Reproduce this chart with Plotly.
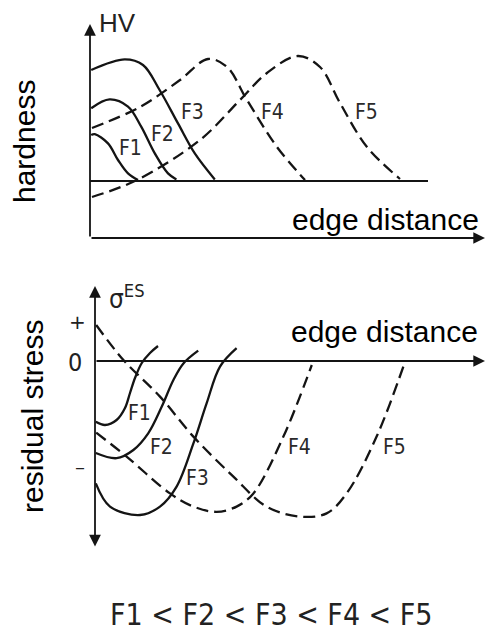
import plotly.graph_objects as go

W, H = 486, 632

# ---------------- data (arbitrary units) ----------------
# Upper panel: hardness vs. edge distance
hv_F1_x = [0.3, 1.2, 4.5, 7.0, 9.5, 12.0]
hv_F1_y = [11.5, 11.7, 9.4, 5.25, 1.9, 0.25]
hv_F2_x = [0.3, 4.9, 9.5, 12.8, 16.2, 19.5, 21.6]
hv_F2_y = [18.2, 20.4, 18.6, 13.6, 6.9, 1.9, 0.4]
hv_F3_x = [0.3, 8.7, 13.25, 17.4, 22.0, 26.2, 31.2]
hv_F3_y = [27.75, 30.4, 29.0, 22.75, 14.4, 6.9, 0.4]
hv_F4_x = [0.5, 12.5, 22.5, 29.5, 34.25, 39.25, 46.75, 53.75]
hv_F4_y = [13.25, 18.5, 25.25, 30.5, 28.5, 20.25, 8.5, 0.25]
hv_F5_x = [0.5, 11.75, 27.5, 37.5, 44.25, 52.0, 57.5, 62.5, 69.25, 77.5]
hv_F5_y = [-4.0, 0.25, 10.25, 20.25, 27.0, 31.25, 28.5, 19.5, 8.5, 0.5]

# Lower panel: residual stress vs. edge distance
rs_F1_x = [0.2, 2.5, 5.4, 7.5, 8.75, 10.0, 11.7, 13.75, 15.75]
rs_F1_y = [-15.2, -16.0, -14.75, -11.75, -8.0, -4.25, -0.5, 2.0, 3.75]
rs_F2_x = [0.2, 5.4, 9.6, 13.3, 16.7, 19.6, 22.1, 25.8]
rs_F2_y = [-23.0, -24.3, -22.25, -18.1, -11.4, -4.75, -0.6, 2.6]
rs_F3_x = [0.2, 3.75, 11.25, 16.25, 20.4, 24.6, 27.9, 31.25, 35.4]
rs_F3_y = [-30.6, -36.4, -38.5, -36.4, -31.4, -20.6, -10.6, -1.4, 3.2]
rs_F4_x = [0.3, 7.9, 18.75, 24.6, 30.4, 35.4, 39.6, 47.1, 54.2]
rs_F4_y = [-17.9, -23.9, -33.1, -36.4, -37.7, -36.4, -33.1, -18.9, -1.0]
rs_F5_x = [0.3, 7.1, 16.25, 24.6, 34.6, 42.9, 51.25, 57.9, 62.9, 70.4, 77.5]
rs_F5_y = [9.0, 0.25, -8.9, -18.9, -28.9, -36.4, -38.9, -38.1, -33.1, -18.9, -0.2]

curve_names = ["F1", "F2", "F3", "F4", "F5"]
curve_dash = ["solid", "solid", "solid", "12px,6px", "12px,6px"]
order_text = "F1 < F2 < F3 < F4 < F5"

# ---------------- layout helpers (pixel geometry of the sketch) ----------------
SCALE = 4.0            # pixels per data unit
TOP_X0, TOP_Y0 = 90, 181    # pixel of data origin, upper panel
BOT_X0, BOT_Y0 = 95, 361    # pixel of data origin, lower panel
TOP_PX = (0, 250)
BOT_PX = (250, 590)

def tx(px): return (px - TOP_X0) / SCALE
def ty(py): return (TOP_Y0 - py) / SCALE
def bx(px): return (px - BOT_X0) / SCALE
def by(py): return (BOT_Y0 - py) / SCALE

INK = "#141414"
LBL_FONT = dict(family="DejaVu Sans Condensed, DejaVu Sans, sans-serif", size=21, color="#2a2a2a")

fig = go.Figure()

top_sets = [(hv_F1_x, hv_F1_y), (hv_F2_x, hv_F2_y), (hv_F3_x, hv_F3_y),
            (hv_F4_x, hv_F4_y), (hv_F5_x, hv_F5_y)]
bot_sets = [(rs_F1_x, rs_F1_y), (rs_F2_x, rs_F2_y), (rs_F3_x, rs_F3_y),
            (rs_F4_x, rs_F4_y), (rs_F5_x, rs_F5_y)]

for name, dash, (xs, ys) in zip(curve_names, curve_dash, top_sets):
    fig.add_trace(go.Scatter(x=xs, y=ys, mode="lines", name=name,
                             line=dict(color=INK, width=2.3, dash=dash, shape="spline", smoothing=1.0),
                             xaxis="x", yaxis="y", showlegend=False, hoverinfo="skip"))
for name, dash, (xs, ys) in zip(curve_names, curve_dash, bot_sets):
    fig.add_trace(go.Scatter(x=xs, y=ys, mode="lines", name=name,
                             line=dict(color=INK, width=2.3, dash=dash, shape="spline", smoothing=1.0),
                             xaxis="x2", yaxis="y2", showlegend=False, hoverinfo="skip"))

shapes = [
    # baseline of the hardness panel
    dict(type="line", xref="x", yref="y", x0=0, y0=0, x1=tx(428), y1=0,
         line=dict(color=INK, width=1.8)),
]

annotations = []

def arrow(xref, yref, x, y, ax, ay, side="end"):
    annotations.append(dict(xref=xref, yref=yref, axref=xref, ayref=yref,
                            x=x, y=y, ax=ax, ay=ay, text="", showarrow=True,
                            arrowhead=2, arrowsize=1.3, arrowwidth=1.8,
                            arrowcolor=INK, arrowside=side, standoff=0, startstandoff=0))

# axes of upper panel
arrow("x", "y", 0, ty(24), 0, ty(238))
arrow("x", "y", tx(485), ty(238), 0, ty(238))
# axes of lower panel
arrow("x2", "y2", 0, by(286), 0, by(548), side="end+start")
arrow("x2", "y2", bx(485), 0, 0, 0)

def text(xref, yref, x, y, s, font, **kw):
    annotations.append(dict(xref=xref, yref=yref, x=x, y=y, text=s, showarrow=False,
                            xanchor="center", yanchor="middle", font=font, **kw))

big = dict(family="Liberation Sans, Arial, sans-serif", size=30, color="#000")
text("x", "y", tx(117), ty(23), "HV", dict(family="Liberation Sans, Arial, sans-serif", size=26, color="#222"))
text("x", "y", tx(385), ty(219), "edge distance", big)
text("x2", "y2", bx(384), by(331), "edge distance", big, bgcolor="white")
text("x2", "y2", bx(127), by(297), "σ<sup>ES</sup>", dict(family="DejaVu Sans Condensed, DejaVu Sans, sans-serif", size=26, color="#222"))
text("x2", "y2", bx(77), by(322), "+", dict(family="DejaVu Sans", size=20, color="#222"))
text("x2", "y2", bx(75), by(362), "0", dict(family="DejaVu Sans Condensed, DejaVu Sans", size=25, color="#222"))
text("x2", "y2", bx(80), by(467), "–", dict(family="DejaVu Sans", size=20, color="#222"))

top_lbl_px = [(130, 148), (162, 134), (192, 112), (272, 112), (366, 112)]
bot_lbl_px = [(139, 413), (161, 447), (197, 478), (299, 447), (394, 447)]
for name, (px, py) in zip(curve_names, top_lbl_px):
    text("x", "y", tx(px), ty(py), name, LBL_FONT)
for name, (px, py) in zip(curve_names, bot_lbl_px):
    text("x2", "y2", bx(px), by(py), name, LBL_FONT)

# rotated axis titles and footer
text("paper", "paper", 25 / W, 1 - 142 / H, "hardness", big, textangle=-90)
text("paper", "paper", 32 / W, 1 - 417 / H, "residual stress", big, textangle=-90)
text("paper", "paper", 271 / W, 1 - 614 / H, order_text,
     dict(family="DejaVu Sans Condensed, DejaVu Sans, sans-serif", size=30, color="#222"))

fig.update_layout(
    width=W, height=H, margin=dict(l=0, r=0, t=0, b=0),
    paper_bgcolor="white", plot_bgcolor="white",
    xaxis=dict(domain=[0, 1], range=[tx(0), tx(W)], visible=False),
    yaxis=dict(domain=[1 - TOP_PX[1] / H, 1 - TOP_PX[0] / H], range=[ty(TOP_PX[1]), ty(TOP_PX[0])], visible=False),
    xaxis2=dict(domain=[0, 1], range=[bx(0), bx(W)], visible=False, anchor="y2"),
    yaxis2=dict(domain=[1 - BOT_PX[1] / H, 1 - BOT_PX[0] / H], range=[by(BOT_PX[1]), by(BOT_PX[0])], visible=False, anchor="x2"),
    shapes=shapes, annotations=annotations, showlegend=False,
)

fig.write_html("out.html")
